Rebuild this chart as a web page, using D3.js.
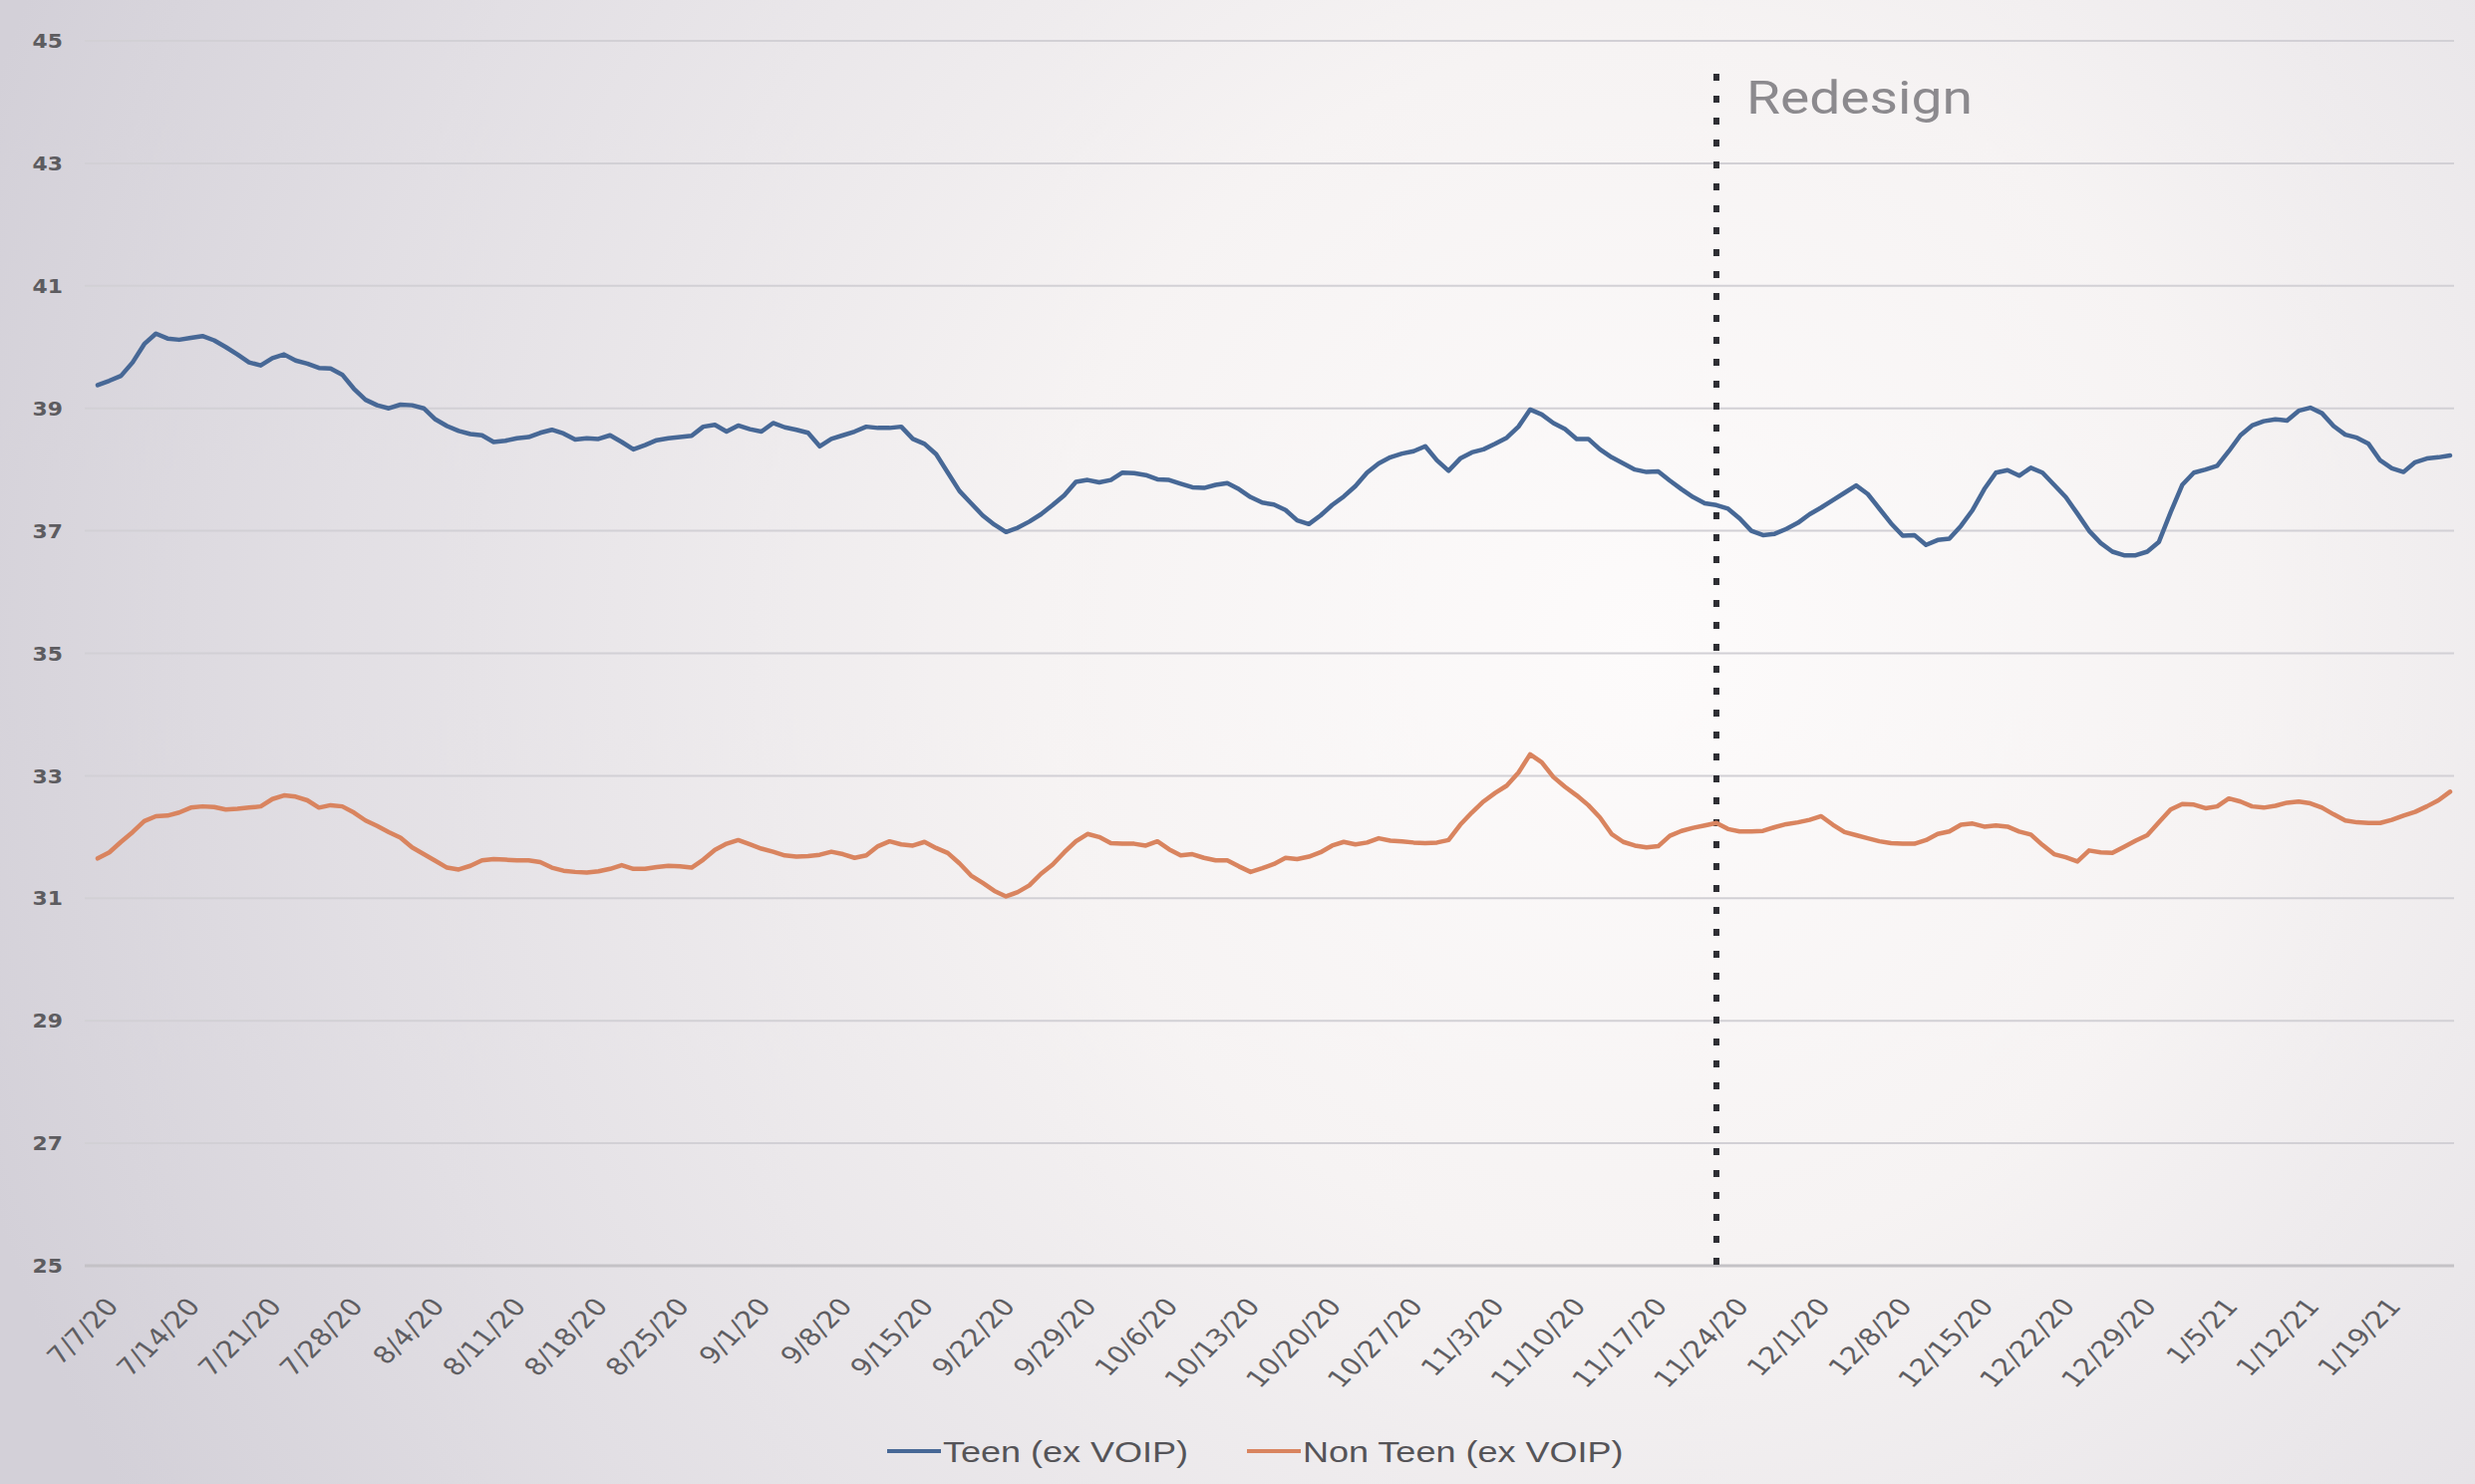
<!DOCTYPE html>
<html>
<head>
<meta charset="utf-8">
<script src="https://cdn.jsdelivr.net/npm/d3@7"></script>
<style>
  html, body { margin: 0; padding: 0; background: #fff; }
  svg { display: block; }
</style>
</head>
<body>
<svg id="chart" width="2483" height="1489"></svg>
<script>
// Daily values, one per day starting at startDate
const startDate = "7/7/20";

const teenValues = [
  39.38, 39.45, 39.53, 39.75, 40.05, 40.22, 40.14, 40.12, 40.15, 40.18,
  40.11, 40.00, 39.88, 39.75, 39.70, 39.82, 39.88, 39.78, 39.73, 39.66,
  39.65, 39.55, 39.32, 39.14, 39.05, 39.00, 39.06, 39.05, 39.00, 38.82,
  38.71, 38.63, 38.58, 38.56, 38.45, 38.47, 38.51, 38.53, 38.60, 38.65,
  38.59, 38.49, 38.51, 38.50, 38.56, 38.45, 38.33, 38.40, 38.48, 38.51,
  38.53, 38.55, 38.70, 38.73, 38.62, 38.72, 38.66, 38.62, 38.76, 38.69,
  38.65, 38.60, 38.38, 38.50, 38.56, 38.62, 38.70, 38.68, 38.68, 38.70,
  38.50, 38.42, 38.25, 37.95, 37.65, 37.45, 37.25, 37.10, 36.98, 37.05,
  37.15, 37.27, 37.42, 37.58, 37.80, 37.83, 37.79, 37.83, 37.95, 37.94,
  37.91, 37.84, 37.83, 37.77, 37.71, 37.70, 37.75, 37.78, 37.68, 37.55,
  37.46, 37.43, 37.34, 37.17, 37.11, 37.25, 37.42, 37.56, 37.73, 37.95,
  38.10, 38.20, 38.26, 38.30, 38.38, 38.15, 37.98, 38.18, 38.28, 38.33,
  38.42, 38.52, 38.70, 38.98, 38.90, 38.76, 38.66, 38.50, 38.50, 38.33,
  38.20, 38.10, 38.00, 37.96, 37.97, 37.82, 37.68, 37.55, 37.45, 37.42,
  37.36, 37.20, 37.00, 36.93, 36.95, 37.03, 37.13, 37.27, 37.38, 37.50,
  37.62, 37.74, 37.60, 37.36, 37.12, 36.92, 36.93, 36.77, 36.85, 36.87,
  37.08, 37.34, 37.68, 37.95, 37.99, 37.90, 38.03, 37.95, 37.75, 37.55,
  37.28, 37.00, 36.80, 36.66, 36.60, 36.60, 36.66, 36.82, 37.30, 37.75,
  37.95, 38.00, 38.06, 38.30, 38.56, 38.72, 38.79, 38.82, 38.80, 38.96,
  39.01, 38.92, 38.71, 38.57, 38.52, 38.42, 38.15, 38.02, 37.96, 38.12,
  38.18, 38.20, 38.23
];

const nonTeenValues = [
  31.65, 31.75, 31.92, 32.08, 32.26, 32.34, 32.35, 32.40, 32.48, 32.50,
  32.49, 32.45, 32.46, 32.48, 32.50, 32.62, 32.68, 32.66, 32.60, 32.48,
  32.52, 32.50, 32.40, 32.27, 32.18, 32.08, 31.99, 31.83, 31.72, 31.61,
  31.50, 31.47, 31.53, 31.62, 31.64, 31.63, 31.62, 31.62, 31.59, 31.50,
  31.45, 31.43, 31.42, 31.44, 31.48, 31.54, 31.48, 31.48, 31.51, 31.53,
  31.52, 31.50, 31.63, 31.79, 31.89, 31.95, 31.88, 31.81, 31.76, 31.70,
  31.68, 31.69, 31.71, 31.76, 31.72, 31.66, 31.70, 31.85, 31.93, 31.88,
  31.86, 31.92, 31.82, 31.74, 31.57, 31.37, 31.25, 31.12, 31.03, 31.10,
  31.21, 31.40, 31.55, 31.75, 31.93, 32.05, 32.00, 31.90, 31.89, 31.89,
  31.86, 31.93, 31.80, 31.70, 31.72, 31.66, 31.62, 31.62, 31.52, 31.43,
  31.49, 31.56, 31.66, 31.64, 31.68, 31.75, 31.86, 31.92, 31.88, 31.91,
  31.98, 31.94, 31.93, 31.91, 31.90, 31.91, 31.95, 32.20, 32.40, 32.58,
  32.72, 32.84, 33.05, 33.35, 33.22, 32.98, 32.82, 32.68, 32.52, 32.32,
  32.05, 31.92, 31.86, 31.83, 31.85, 32.02, 32.10, 32.15, 32.19, 32.23,
  32.13, 32.09, 32.09, 32.10, 32.16, 32.21, 32.24, 32.28, 32.34, 32.20,
  32.08, 32.03, 31.98, 31.93, 31.90, 31.89, 31.89, 31.95, 32.05, 32.09,
  32.20, 32.22, 32.17, 32.19, 32.17, 32.09, 32.04, 31.87, 31.72, 31.67,
  31.60, 31.78, 31.75, 31.74, 31.84, 31.94, 32.03, 32.24, 32.45, 32.54,
  32.53, 32.47, 32.50, 32.63, 32.58, 32.50, 32.48, 32.51, 32.56, 32.58,
  32.55, 32.48, 32.37, 32.27, 32.24, 32.23, 32.23, 32.28, 32.35, 32.41,
  32.50, 32.60, 32.74
];

const xTickLabels = [
  "7/7/20", "7/14/20", "7/21/20", "7/28/20", "8/4/20", "8/11/20", "8/18/20",
  "8/25/20", "9/1/20", "9/8/20", "9/15/20", "9/22/20", "9/29/20", "10/6/20",
  "10/13/20", "10/20/20", "10/27/20", "11/3/20", "11/10/20", "11/17/20",
  "11/24/20", "12/1/20", "12/8/20", "12/15/20", "12/22/20", "12/29/20",
  "1/5/21", "1/12/21", "1/19/21"
];

const yTickValues = [25, 27, 29, 31, 33, 35, 37, 39, 41, 43, 45];

const seriesNames = ["Teen (ex VOIP)", "Non Teen (ex VOIP)"];
const seriesColors = ["#476896", "#d9845f"];

const redesignDate = "11/23/20";
const redesignLabel = "Redesign";

// ---------------------------------------------------------------
const W = 2483, H = 1489;
const parseDate = d3.timeParse("%m/%d/%y");
const fmtDate = d3.timeFormat("%-m/%-d/%y");
const t0 = parseDate(startDate);
const dates = teenValues.map((_, i) => d3.timeDay.offset(t0, i));

const svg = d3.select("#chart");

// soft screen-photo background
const defs = svg.append("defs");
const bg = defs.append("radialGradient").attr("id", "bg")
  .attr("gradientUnits", "userSpaceOnUse")
  .attr("cx", 1650).attr("cy", 650).attr("r", 1750);
bg.append("stop").attr("offset", 0).attr("stop-color", "#fdfbfb");
bg.append("stop").attr("offset", 0.35).attr("stop-color", "#f6f3f3");
bg.append("stop").attr("offset", 0.75).attr("stop-color", "#e2dfe4");
bg.append("stop").attr("offset", 1).attr("stop-color", "#d3d0d8");
svg.append("rect").attr("width", W).attr("height", H).attr("fill", "url(#bg)");

const x = d3.scaleTime()
  .domain([dates[0], dates[dates.length - 1]])
  .range([98, 2458]);
const y = d3.scaleLinear().domain([25, 45]).range([1270, 41]);

const gridX0 = 85, gridX1 = 2462;

// horizontal gridlines
svg.append("g")
  .selectAll("line")
  .data(yTickValues)
  .join("line")
  .attr("x1", gridX0).attr("x2", gridX1)
  .attr("y1", d => y(d)).attr("y2", d => y(d))
  .attr("stroke", d => d === 25 ? "#c4c2c6" : "#d2d0d5")
  .attr("stroke-width", d => d === 25 ? 3 : 2);

// y axis labels
const yAxis = svg.append("g")
  .attr("transform", `translate(63,0)`)
  .call(d3.axisLeft(y).tickValues(yTickValues).tickSize(0).tickFormat(d3.format("d")));
yAxis.select(".domain").remove();
yAxis.selectAll(".tick text")
  .attr("x", 0).attr("dy", "0.35em")
  .attr("transform", "scale(1.15,1)")
  .attr("text-anchor", "end")
  .attr("font-family", "DejaVu Sans, sans-serif")
  .attr("font-weight", "bold")
  .attr("font-size", 19)
  .attr("fill", "#5d5c60");

// x axis labels (weekly)
const tickDates = xTickLabels.map(parseDate);
const xAxis = svg.append("g")
  .attr("transform", `translate(0,${y(25)})`)
  .call(d3.axisBottom(x).tickValues(tickDates).tickSize(0).tickFormat(fmtDate));
xAxis.select(".domain").remove();
xAxis.selectAll(".tick text")
  .attr("x", 0).attr("y", 0).attr("dy", "0.35em")
  .attr("text-anchor", "end")
  .attr("transform", "translate(14,36) scale(1.2,1) rotate(-50)")
  .attr("font-family", "DejaVu Sans, sans-serif")
  .attr("font-size", 24)
  .attr("fill", "#5f5e62");

// redesign marker
const xr = x(parseDate(redesignDate));
svg.append("line")
  .attr("x1", xr).attr("x2", xr)
  .attr("y1", 74).attr("y2", y(25) + 4)
  .attr("stroke", "#2e2e33")
  .attr("stroke-width", 6)
  .attr("stroke-dasharray", "7 15");
svg.append("text")
  .attr("transform", `translate(${xr + 30},114) scale(1.2,1)`)
  .attr("font-family", "Roboto, sans-serif")
  .attr("font-size", 46)
  .attr("fill", "#8c8a8e")
  .text(redesignLabel);

// series lines
const line = d3.line()
  .x((d, i) => x(dates[i]))
  .y(d => y(d))
  .curve(d3.curveLinear);

[teenValues, nonTeenValues].forEach((vals, k) => {
  svg.append("path")
    .datum(vals)
    .attr("fill", "none")
    .attr("stroke", seriesColors[k])
    .attr("stroke-width", 4.5)
    .attr("stroke-linejoin", "round")
    .attr("stroke-linecap", "round")
    .attr("d", line);
});

// legend
const legendItems = [
  { x: 890, name: seriesNames[0], color: seriesColors[0] },
  { x: 1251, name: seriesNames[1], color: seriesColors[1] }
];
const lg = svg.append("g");
legendItems.forEach(item => {
  lg.append("line")
    .attr("x1", item.x).attr("x2", item.x + 54)
    .attr("y1", 1456).attr("y2", 1456)
    .attr("stroke", item.color).attr("stroke-width", 4);
  lg.append("text")
    .attr("transform", `translate(${item.x + 56},1467) scale(1.2,1)`)
    .attr("font-family", "Liberation Sans, Arial, sans-serif")
    .attr("font-size", 30)
    .attr("fill", "#555458")
    .text(item.name);
});
</script>
</body>
</html>
